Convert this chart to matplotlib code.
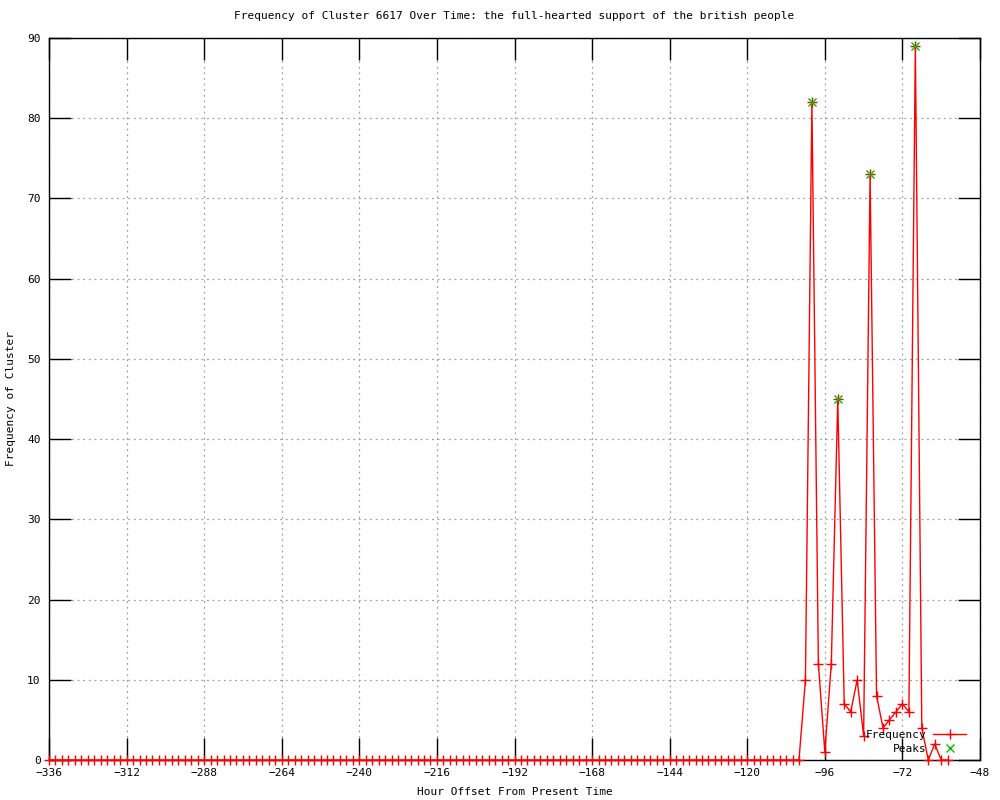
#!/usr/bin/env python3
"""Frequency of a cluster over time, gnuplot-style line chart."""
import matplotlib
matplotlib.use("Agg")
import matplotlib.pyplot as plt
import numpy as np

# ─── DATA ───────────────────────────────────────────────────────────────────
# hourly offsets (every 2 h); zeros up to -104, then the active window
hours = list(range(-336, -57, 2))
active = {
    -102: 10, -100: 82, -98: 12, -96: 1, -94: 12, -92: 45, -90: 7, -88: 6,
    -86: 10, -84: 3, -82: 73, -80: 8, -78: 4, -76: 5, -74: 6, -72: 7,
    -70: 6, -68: 89, -66: 4, -64: 0, -62: 2, -60: 0, -58: 0,
}
freq = [active.get(h, 0) for h in hours]

peak_hours = [-100, -92, -82, -68]
peak_vals = [82, 45, 73, 89]

x_ticks = list(range(-336, -47, 24))
y_ticks = list(range(0, 91, 10))

TITLE = "Frequency of Cluster 6617 Over Time: the full-hearted support of the british people"

# ─── PLOT ───────────────────────────────────────────────────────────────────
plt.rcParams["font.family"] = ["DejaVu Sans Mono"]

fig = plt.figure(figsize=(10, 8), dpi=100)
ax = fig.add_axes([0.049, 0.05, 0.931, 0.9025])

ax.plot(hours, freq, color="red", lw=1, marker="+", ms=6.5, mew=1,
        label="Frequency", clip_on=False, zorder=3)
ax.plot(peak_hours, peak_vals, color="#00c000", lw=0, marker="x", ms=5.5,
        mew=1, label="Peaks", clip_on=False, zorder=4)

ax.set_xlim(-336, -48)
ax.set_ylim(0, 90)
ax.set_xticks(x_ticks)
ax.set_yticks(y_ticks)
ax.grid(True, color="#a0a0a0", linestyle=(0, (1.5, 3)), lw=0.9)
ax.tick_params(direction="in", length=16, width=1, top=True, right=True,
               labelsize=8, pad=6)
for sp in ax.spines.values():
    sp.set_linewidth(1)

ax.set_title(TITLE, fontsize=8, pad=14)
ax.set_xlabel("Hour Offset From Present Time", fontsize=8, labelpad=6)
ax.set_ylabel("Frequency of Cluster", fontsize=8, labelpad=8)

ax.legend(loc="lower right", bbox_to_anchor=(0.995, -0.004), frameon=False,
          markerfirst=False, fontsize=8, handlelength=3.0,
          handletextpad=0.6, labelspacing=0.35, borderpad=0.3)

fig.savefig("out.png", dpi=100)
